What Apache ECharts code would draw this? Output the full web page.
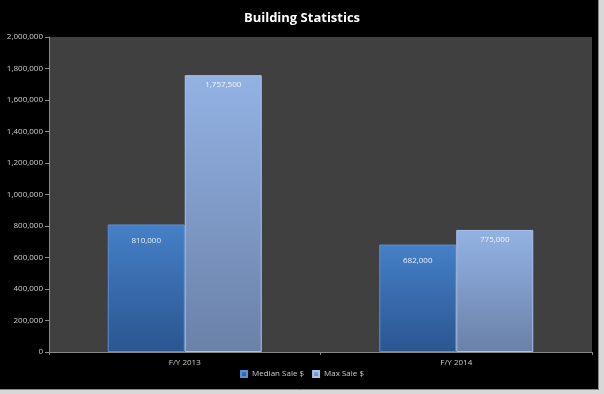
<!DOCTYPE html>
<html><head><meta charset="utf-8">
<script src="https://cdn.jsdelivr.net/npm/echarts@6/dist/echarts.min.js"></script>
<style>html,body{margin:0;padding:0;background:#000;}#c{width:604px;height:394px;}</style>
</head><body><div id="c"></div>
<script>
const categories = ['F/Y 2013', 'F/Y 2014'];
const medianSale = [810000, 682000];
const maxSale = [1757500, 775000];
const seriesNames = ['Median Sale $', 'Max Sale $'];
const yTicks = {min: 0, max: 2000000, interval: 200000};

const chart = echarts.init(document.getElementById('c'), null, {renderer: 'canvas'});
const fmt = v => Number(v).toLocaleString('en-US');
const grad = (a, b) => new echarts.graphic.LinearGradient(0, 0, 0, 1, [{offset: 0, color: a}, {offset: 1, color: b}]);
const font = 'Open Sans, Lato, sans-serif';
chart.setOption({
  backgroundColor: '#000',
  animation: false,
  title: {text: 'Building Statistics', left: 'center', top: 7,
    textStyle: {color: '#fff', fontSize: 13, fontWeight: 'bold', fontFamily: font}},
  grid: {left: 49, right: 12, top: 37, bottom: 42, show: true, backgroundColor: '#404040', borderWidth: 0},
  legend: {bottom: 11, left: 'center', itemWidth: 6, itemHeight: 6, itemGap: 8, icon: 'rect',
    textStyle: {color: '#ccc', fontSize: 8, fontFamily: font},
    data: seriesNames},
  xAxis: {type: 'category', data: categories,
    axisLine: {lineStyle: {color: '#8a8a8a'}}, axisTick: {show: true, length: 3, lineStyle: {color: '#8a8a8a'}},
    axisLabel: {color: '#ccc', fontSize: 8, fontFamily: font, margin: 7}},
  yAxis: {type: 'value', min: yTicks.min, max: yTicks.max, interval: yTicks.interval,
    splitLine: {show: false},
    axisLine: {show: true, lineStyle: {color: '#8a8a8a'}},
    axisTick: {show: true, length: 4, lineStyle: {color: '#8a8a8a'}},
    axisLabel: {color: '#ccc', fontSize: 8, fontFamily: font, formatter: fmt, margin: 6}},
  series: [
    {name: seriesNames[0], type: 'bar', data: medianSale, barWidth: 77, barGap: '0%',
     itemStyle: {color: grad('#4580c8', '#2b5590'), borderColor: '#5a8fd6', borderWidth: 1},
     label: {show: true, position: 'insideTop', distance: 12, color: '#e8eef8', fontSize: 8, fontFamily: font, formatter: p => fmt(p.value)}},
    {name: seriesNames[1], type: 'bar', data: maxSale, barWidth: 77,
     itemStyle: {color: grad('#93b2e4', '#6a81a8'), borderColor: '#a8c2ec', borderWidth: 1},
     label: {show: true, position: 'insideTop', distance: 6, color: '#f2f5fb', fontSize: 8, fontFamily: font, formatter: p => fmt(p.value)}}
  ],
  graphic: [
    {type: 'rect', shape: {x: 599, y: 0, width: 5, height: 394}, style: {fill: '#d8d8d8'}, z: 100},
    {type: 'rect', shape: {x: 0, y: 390, width: 604, height: 4}, style: {fill: '#d8d8d8'}, z: 100},
    {type: 'polyline', shape: {points: [[598.5, 0], [598.5, 389.5], [0, 389.5]]}, style: {stroke: '#8a8a8a', lineWidth: 1, fill: null}, z: 101}
  ]
});
</script></body></html>
